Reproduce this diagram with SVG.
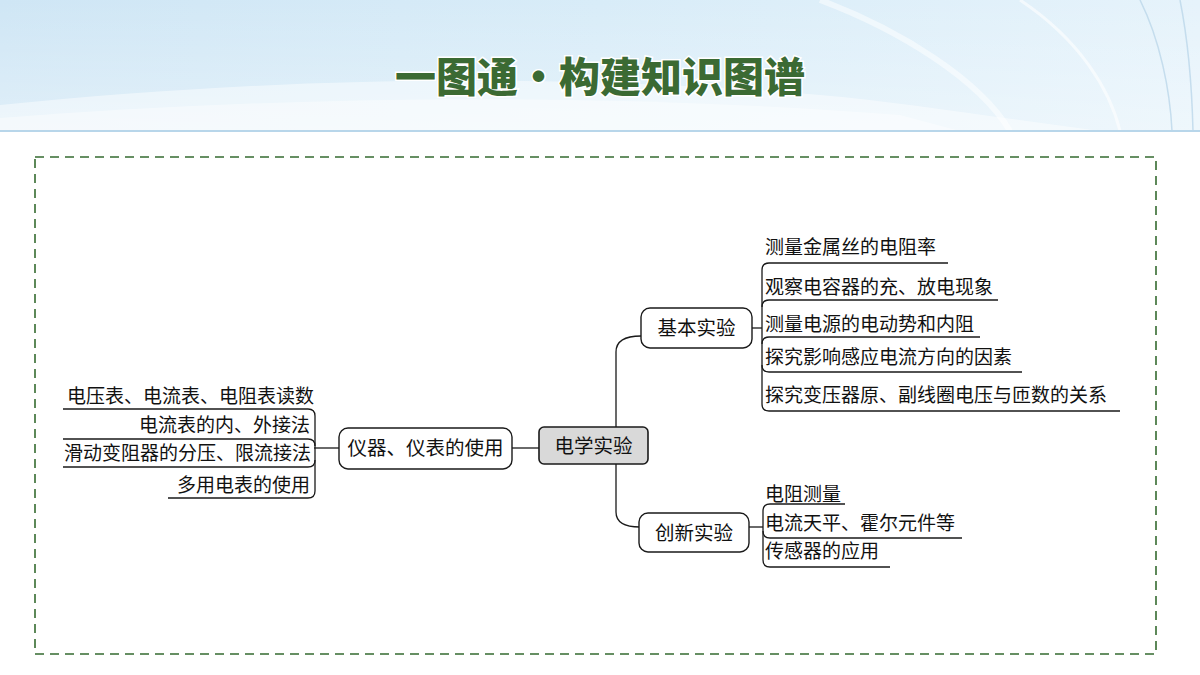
<svg xmlns="http://www.w3.org/2000/svg" width="1200" height="675" viewBox="0 0 1200 675">
<defs>
<linearGradient id="hdr" x1="0" y1="0" x2="1" y2="0">
<stop offset="0" stop-color="#cfe6f5"/>
<stop offset="0.5" stop-color="#d8ecf8"/>
<stop offset="1" stop-color="#e6f3fb"/>
</linearGradient>
<linearGradient id="hdrv" x1="0" y1="0" x2="0" y2="1">
<stop offset="0" stop-color="#ffffff" stop-opacity="0"/>
<stop offset="1" stop-color="#ffffff" stop-opacity="0.35"/>
</linearGradient>
<style>
.ln{fill:none;stroke:#1a1a1a;stroke-width:1.3}
.box{fill:#ffffff;stroke:#1a1a1a;stroke-width:1.4}
.ctr{fill:#d9d9d9;stroke:#1a1a1a;stroke-width:1.6}
.t{font-family:"Noto Sans CJK SC","Noto Sans",sans-serif;font-size:19px;fill:#111}
.nt{font-family:"Noto Sans CJK SC","Noto Sans",sans-serif;font-size:19.5px;fill:#111;text-anchor:middle}
</style>
</defs>
<g id="header">
<rect x="0" y="0" width="1200" height="131" fill="url(#hdr)"/>
<rect x="0" y="0" width="1200" height="131" fill="url(#hdrv)"/>
<path d="M0,105 C250,80 520,70 820,95 C900,102 1000,118 1100,131 L0,131 Z" fill="#ffffff" opacity="0.45"/>
<path d="M0,118 C300,95 600,92 900,115 L960,131 L0,131 Z" fill="#ffffff" opacity="0.4"/>
<path d="M820,0 C900,30 980,80 1010,131" fill="none" stroke="#ffffff" stroke-width="6" opacity="0.5"/>
<path d="M1020,0 C1080,40 1110,90 1120,131" fill="none" stroke="#ffffff" stroke-width="3" opacity="0.6"/>
<path d="M1140,0 C1160,40 1170,90 1172,131" fill="none" stroke="#bcd7ea" stroke-width="1.5" opacity="0.8"/>
<path d="M1180,0 C1188,40 1192,90 1193,131" fill="none" stroke="#bcd7ea" stroke-width="1.5" opacity="0.8"/>
<line x1="0" y1="131" x2="1200" y2="131" stroke="#b8d6ea" stroke-width="2"/>
<text x="600" y="92" text-anchor="middle" font-family="Noto Sans CJK SC, sans-serif" font-weight="900" font-size="41" fill="#3b6a33" stroke="#ffffff" stroke-width="3" paint-order="stroke">一图通·构建知识图谱</text>
</g>
<rect id="frame" x="35" y="157" width="1121" height="497" fill="none" stroke="#356b30" stroke-width="1.6" stroke-dasharray="9,6"/>
<g id="connectors">
<line class="ln" x1="314" y1="448" x2="339" y2="448"/>
<line class="ln" x1="512" y1="448" x2="539" y2="448"/>
<path class="ln" d="M616,427 V352 Q616,336 641,336"/>
<path class="ln" d="M616,464 V512 Q616,527 640,527"/>
<line class="ln" x1="752" y1="328" x2="762" y2="328"/>
<line class="ln" x1="749" y1="527" x2="763" y2="527"/>
<!-- left bracket -->
<path class="ln" d="M63,409 H308 Q315,409 315,416 V491 Q315,498 308,498 H168"/>
<path class="ln" d="M63,439 H308 Q315,439 315,446"/>
<path class="ln" d="M63,467 H308 Q315,467 315,460"/>
<!-- basic bracket -->
<path class="ln" d="M948,263 H769 Q762,263 762,270 V404 Q762,411 769,411 H1120"/>
<path class="ln" d="M998,300 H769 Q762,300 762,307"/>
<path class="ln" d="M980,337 H769 Q762,337 762,344"/>
<path class="ln" d="M1022,372 H769 Q762,372 762,365"/>
<!-- innovation bracket -->
<path class="ln" d="M845,504 H770 Q763,504 763,511 V560 Q763,567 770,567 H890"/>
<path class="ln" d="M962,538 H770 Q763,538 763,531"/>
</g>
<g id="n-center"><rect class="ctr" x="539" y="427" width="109" height="37" rx="5"/><text class="nt" x="593.5" y="453" font-size="21.5px">电学实验</text></g>
<g id="n-instr"><rect class="box" x="339" y="428" width="173" height="41" rx="9"/><text class="nt" x="425.5" y="455">仪器、仪表的使用</text></g>
<g id="n-basic"><rect class="box" x="641" y="308" width="111" height="40" rx="9"/><text class="nt" x="696.5" y="335">基本实验</text></g>
<g id="n-innov"><rect class="box" x="639" y="513" width="110" height="39" rx="9"/><text class="nt" x="694" y="539.5">创新实验</text></g>
<g id="left-items">
<text class="t" x="314" y="403" text-anchor="end">电压表、电流表、电阻表读数</text>
<text class="t" x="310" y="432" text-anchor="end">电流表的内、外接法</text>
<text class="t" x="311" y="460" text-anchor="end">滑动变阻器的分压、限流接法</text>
<text class="t" x="310" y="492" text-anchor="end">多用电表的使用</text>
</g>
<g id="basic-items">
<text class="t" x="765" y="254">测量金属丝的电阻率</text>
<text class="t" x="765" y="294">观察电容器的充、放电现象</text>
<text class="t" x="765" y="331">测量电源的电动势和内阻</text>
<text class="t" x="765" y="364">探究影响感应电流方向的因素</text>
<text class="t" x="765" y="402">探究变压器原、副线圈电压与匝数的关系</text>
</g>
<g id="innov-items">
<text class="t" x="765" y="501">电阻测量</text>
<text class="t" x="765" y="530">电流天平、霍尔元件等</text>
<text class="t" x="765" y="558">传感器的应用</text>
</g>
</svg>
